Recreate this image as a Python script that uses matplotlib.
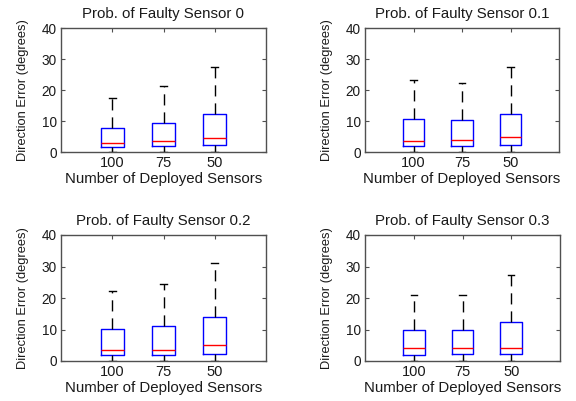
import matplotlib
matplotlib.use("Agg")
import matplotlib.pyplot as plt

plt.rcParams['font.family'] = ['Liberation Sans', 'DejaVu Sans']

titles = ["Prob. of Faulty Sensor 0", "Prob. of Faulty Sensor 0.1",
          "Prob. of Faulty Sensor 0.2", "Prob. of Faulty Sensor 0.3"]
sensor_labels = ["100", "75", "50"]

# per panel: values for sensors 100, 75, 50
medians = [[2.9, 3.7, 4.6],
           [3.7, 4.0, 4.9],
           [3.6, 3.6, 5.2],
           [4.0, 4.0, 4.0]]
q1 = [[1.6, 1.8, 2.4],
      [1.8, 1.8, 2.4],
      [2.0, 1.8, 2.3],
      [2.0, 2.3, 2.3]]
q3 = [[7.7, 9.4, 12.3],
      [10.5, 10.2, 12.4],
      [10.2, 11.1, 14.0],
      [9.9, 9.8, 12.4]]
whisker_low = [[0.0, 0.0, 0.0],
               [0.0, 0.0, 0.0],
               [0.0, 0.0, 0.0],
               [0.0, 0.0, 0.0]]
whisker_high = [[17.3, 21.3, 27.4],
                [23.1, 22.4, 27.5],
                [22.3, 24.3, 31.0],
                [20.8, 21.0, 27.3]]

W, H = 576, 401
fig = plt.figure(figsize=(W / 100, H / 100), dpi=100)

# axes boxes in pixels: left, right, top, bottom
boxes_px = [(61, 266, 28, 152), (365, 559, 28, 152),
            (61, 266, 235, 361), (365, 560, 235, 361)]

spine_col = '#505050'
text_col = '#1a1a1a'

for i, (l, r, t, b) in enumerate(boxes_px):
    ax = fig.add_axes([l / W, (H - b) / H, (r - l) / W, (b - t) / H])
    stats = []
    for j in range(3):
        stats.append(dict(med=medians[i][j], q1=q1[i][j], q3=q3[i][j],
                          whislo=whisker_low[i][j], whishi=whisker_high[i][j],
                          fliers=[], label=sensor_labels[j]))
    ax.bxp(stats, positions=[1, 2, 3], widths=0.45, capwidths=0.13,
           showfliers=False,
           boxprops=dict(color='#0000ff', linewidth=1.0),
           medianprops=dict(color='#ff0000', linewidth=1.0),
           whiskerprops=dict(color='black', linewidth=1.0, linestyle=(0, (8, 5))),
           capprops=dict(color='black', linewidth=1.0))
    ax.set_xlim(0, 4)
    ax.set_ylim(0, 40)
    ax.set_yticks([0, 10, 20, 30, 40])
    ax.set_xticks([1, 2, 3])
    ax.set_xticklabels(sensor_labels)
    ax.tick_params(direction='in', length=3, width=0.8, colors=spine_col,
                   labelcolor=text_col, top=True, right=True, pad=3)
    ax.tick_params(axis='x', labelsize=10.5)
    ax.tick_params(axis='y', labelsize=9.8)
    for s in ax.spines.values():
        s.set_color(spine_col)
        s.set_linewidth(1.0)
    ax.set_title(titles[i], fontsize=10.8, color=text_col, pad=7)
    ax.set_xlabel("Number of Deployed Sensors", fontsize=10.8, color=text_col, labelpad=1)
    ax.set_ylabel("Direction Error (degrees)", fontsize=9.3, color=text_col, labelpad=9)

fig.savefig("out.png", dpi=100)
